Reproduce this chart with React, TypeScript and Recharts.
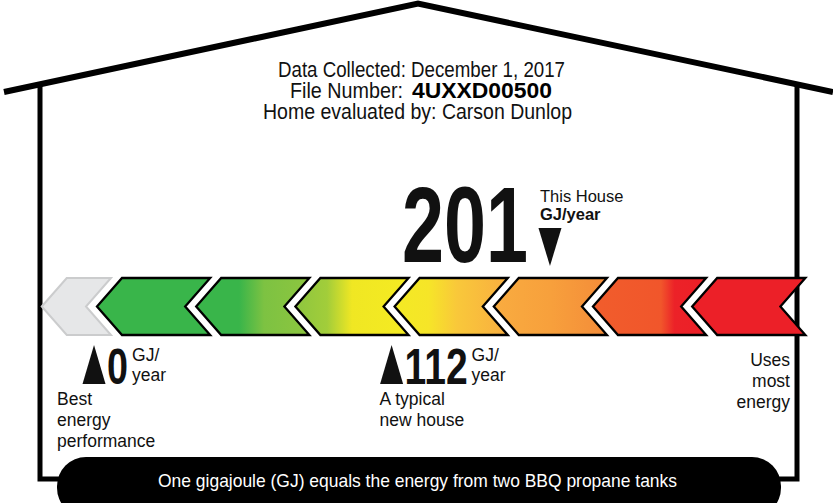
import { ComposedChart, XAxis, YAxis, ReferenceArea, Scatter } from 'recharts';

// rating scale: GJ/year values mapped onto the chevron bands
const scaleGJ = [0, 112, 335];
const scaleBand = [0, 3, 7];

// chevron bands, best (left) to most energy (right)
const bandIndex = [0, 1, 2, 3, 4, 5, 6, 7];
const bandStops: [number, string][][] = [
  [[0, '#e6e7e8'], [1, '#e6e7e8']],
  [[0, '#39b54a'], [1, '#39b54a']],
  [[0, '#39b54a'], [0.38, '#39b54a'], [0.6, '#7dc242'], [1, '#8dc63f']],
  [[0, '#8dc63f'], [0.28, '#a2cd3a'], [0.5, '#f0e723'], [1, '#f5eb22']],
  [[0, '#f3ea24'], [0.3, '#f6e528'], [0.55, '#f9c83a'], [1, '#f8ae40']],
  [[0, '#f9ac40'], [0.5, '#f7a03c'], [1, '#f48c39']],
  [[0, '#f15d2c'], [0.6, '#f1562b'], [0.72, '#ec2228'], [1, '#ec1f27']],
  [[0, '#ec2028'], [1, '#ec2028']],
];

// markers on the scale
const markerKinds = ['best', 'typical', 'house'];
const markerValues = [0, 112, 201];
const markerCaptions = [['Best', 'energy', 'performance'], ['A typical', 'new house'], ['This House']];

const headerLines = ['Data Collected: December 1, 2017', 'File Number:', 'Home evaluated by: Carson Dunlop'];
const fileNumber = '4UXXD00500';
const endCaption = ['Uses', 'most', 'energy'];
const footer = 'One gigajoule (GJ) equals the energy from two BBQ propane tanks';

const INK = '#111';
const FONT = "'Liberation Sans', Arial, Helvetica, sans-serif";
const W = 833;
const H = 503;
const BAR_TOP = 278;
const BAR_BOTTOM = 335;
const OFFSET = 0.03;
const GRAY_WIDTH = 0.557;
const INNER_LEFT = 57;

function gjToBand(gj: number) {
  if (gj <= scaleGJ[1]) return (gj / scaleGJ[1]) * scaleBand[1];
  return scaleBand[1] + ((gj - scaleGJ[1]) / (scaleGJ[2] - scaleGJ[1])) * (scaleBand[2] - scaleBand[1]);
}

const markerData = markerKinds.map((kind, i) => ({
  kind,
  gj: markerValues[i],
  caption: markerCaptions[i],
  x: gjToBand(markerValues[i]),
  y: kind === 'house' ? BAR_TOP - 1 : BAR_BOTTOM + 1,
}));

const Chevron = (props: any) => {
  const { x, y, width, height, idx } = props;
  const d = 25;
  const notch = x + width - 11;
  const mid = y + height / 2;
  const pts = `${x},${mid} ${x + d},${y} ${notch + d},${y} ${notch},${mid} ${notch + d},${y + height} ${x + d},${y + height}`;
  const gray = idx === 0;
  return (
    <g>
      <defs>
        <linearGradient id={`band-${idx}`} x1="0" x2="1" y1="0" y2="0">
          {bandStops[idx].map(([o, c], k) => (
            <stop key={k} offset={o} stopColor={c} />
          ))}
        </linearGradient>
      </defs>
      <polygon
        points={pts}
        fill={`url(#band-${idx})`}
        stroke={gray ? '#cbcccd' : '#000'}
        strokeWidth={gray ? 2 : 2.3}
      />
    </g>
  );
};

const Marker = (props: any) => {
  const { cx, cy, payload } = props;
  if (payload.kind === 'house') {
    return (
      <g fontFamily={FONT} fill={INK}>
        <polygon points={`${cx - 11.5},${cy - 49} ${cx + 11.5},${cy - 49} ${cx},${cy - 11}`} fill={INK} />
        <text x={cx - 22} y={cy - 15} textAnchor="end" fontSize={108} fontWeight={700}
          textLength={126} lengthAdjust="spacingAndGlyphs">{payload.gj}</text>
        <text x={cx - 10} y={cy - 75} fontSize={16.5}>{payload.caption[0]}</text>
        <text x={cx - 10} y={cy - 57} fontSize={16.5} fontWeight={700}>GJ/year</text>
      </g>
    );
  }
  const label = String(payload.gj);
  const valueW = label.length * 21;
  const unitX = cx + 13 + valueW + 4;
  // the "best" caption hugs the inside of the wall
  const capX = payload.kind === 'best' ? INNER_LEFT : cx - 12;
  return (
    <g fontFamily={FONT} fill={INK}>
      <polygon points={`${cx},${cy + 9} ${cx + 11.5},${cy + 48} ${cx - 11.5},${cy + 48}`} fill={INK} />
      <text x={cx + 13} y={cy + 47.5} fontSize={50} fontWeight={700}
        textLength={valueW} lengthAdjust="spacingAndGlyphs">{label}</text>
      <text x={unitX} y={cy + 25} fontSize={17.5}>GJ/</text>
      <text x={unitX} y={cy + 45} fontSize={17.5}>year</text>
      {payload.caption.map((t: string, k: number) => (
        <text key={k} x={capX} y={cy + 69 + k * 21} fontSize={17.5}>{t}</text>
      ))}
    </g>
  );
};

function House() {
  return (
    <svg width={W} height={H} style={{ position: 'absolute', left: 0, top: 0 }}>
      <polyline points="4,92 418,3.5 833,92" fill="none" stroke="#000" strokeWidth={6} />
      <polyline points="40,84 40,479 62,479" fill="none" stroke="#000" strokeWidth={5} />
      <polyline points="797,84 797,479 776,479" fill="none" stroke="#000" strokeWidth={5} />
      <rect x={57} y={457} width={724} height={60} rx={29} fill="#000" />
      <g fontFamily={FONT} fill={INK} fontSize={22}>
        <text x={278} y={77} textLength={287} lengthAdjust="spacingAndGlyphs">{headerLines[0]}</text>
        <text x={290} y={98} textLength={113} lengthAdjust="spacingAndGlyphs">{headerLines[1]}</text>
        <text x={412} y={98} fontWeight={700} fill="#000" textLength={140} lengthAdjust="spacingAndGlyphs">{fileNumber}</text>
        <text x={263} y={119} textLength={309} lengthAdjust="spacingAndGlyphs">{headerLines[2]}</text>
      </g>
      <g fontFamily={FONT} fill={INK} fontSize={17.5} textAnchor="end">
        {endCaption.map((t, k) => (
          <text key={k} x={790} y={366 + k * 21}>{t}</text>
        ))}
      </g>
      <text x={158} y={487} fontFamily={FONT} fontSize={19} fill="#fff" textLength={519} lengthAdjust="spacingAndGlyphs">
        {footer}
      </text>
    </svg>
  );
}

export default function App() {
  return (
    <div style={{ position: 'absolute', left: 0, top: 0, width: W, height: H, background: '#fff' }}>
      <House />
      <div style={{ position: 'absolute', left: 0, top: 0 }}>
        <ComposedChart width={W} height={H} margin={{ top: 0, right: 44.6, bottom: 0, left: 34.5 }}>
          <XAxis type="number" dataKey="x" domain={[-0.6, 7]} hide allowDataOverflow />
          <YAxis type="number" dataKey="y" domain={[0, H]} reversed hide allowDataOverflow />
          {bandIndex.map((b) => (
            <ReferenceArea
              key={b}
              x1={b === 0 ? OFFSET - GRAY_WIDTH : b - 1 + OFFSET}
              x2={b + OFFSET}
              y1={BAR_TOP}
              y2={BAR_BOTTOM}
              ifOverflow="visible"
              shape={(p: any) => <Chevron {...p} idx={b} />}
            />
          ))}
          <Scatter data={markerData} shape={<Marker />} isAnimationActive={false} />
        </ComposedChart>
      </div>
    </div>
  );
}
